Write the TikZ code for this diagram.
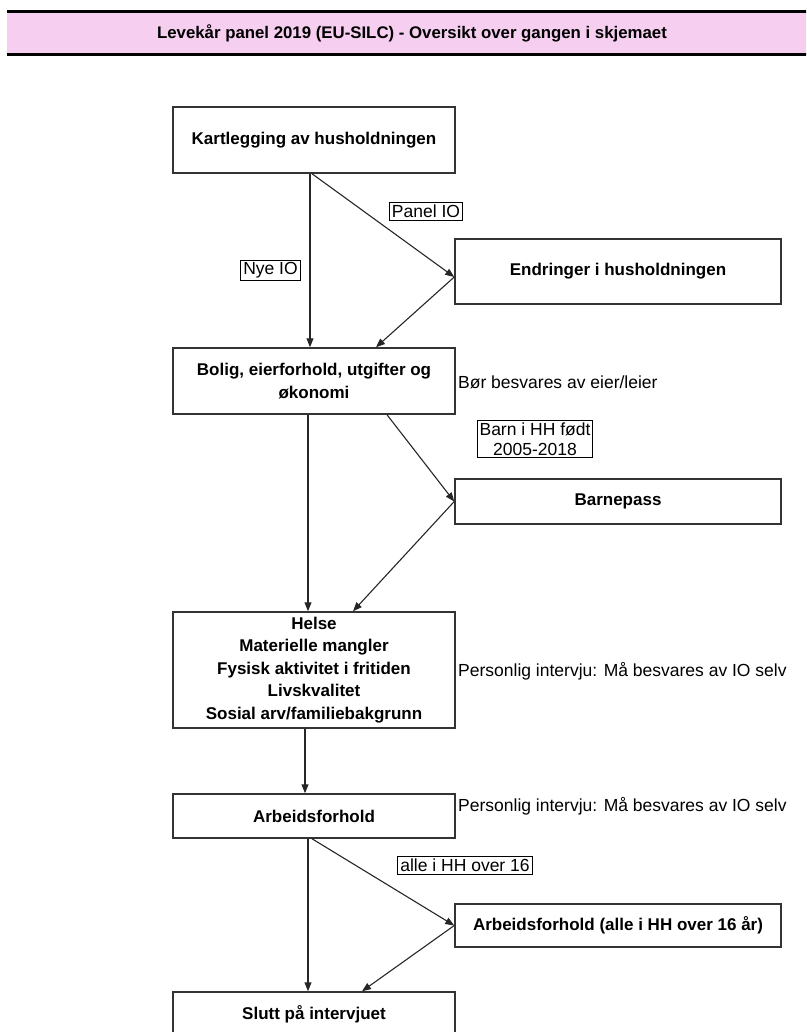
\documentclass[tikz,border=0pt]{standalone}
\usepackage{fontspec}
\setmainfont{Liberation Sans}
\usetikzlibrary{arrows.meta}
\definecolor{titlepink}{RGB}{245,206,240}
\tikzset{
	boks/.style={draw=black!80, line width=1.5pt, inner sep=0pt, align=center, minimum width=282pt, font=\bfseries\fontsize{17}{22.5}\selectfont},
	merk/.style={draw, line width=1pt, inner sep=2.5pt, align=center, font=\fontsize{17.5}{20}\selectfont},
	notat/.style={anchor=west, inner sep=0pt, font=\fontsize{17.5}{20}\selectfont},
	pil/.style={-{Triangle[length=9pt,width=7pt]}, line width=1.1pt, black!85}
}
\begin{document}
\begin{tikzpicture}[x=1pt, y=-1pt]
		\useasboundingbox (0,0) rectangle (806,1032);
		\clip (0,0) rectangle (806,1032);
		\fill[titlepink] (7,12) rectangle (812,55);
		\draw[line width=3pt] (7,12) -- (812,12);
		\draw[line width=3pt] (7,55) -- (812,55);
		\node[font=\bfseries\fontsize{16.8}{20}\selectfont] (tittel) at (412,33) {Levekår panel 2019 (EU-SILC) - Oversikt over gangen i skjemaet};
		\node[boks, minimum height=66pt] (kart) at (314,140) {Kartlegging av husholdningen};
		\node[boks, minimum height=65pt, minimum width=326pt] (endr) at (618,271.5) {Endringer i husholdningen};
		\node[boks, minimum height=66pt] (bolig) at (314,381) {Bolig, eierforhold, utgifter og\\økonomi};
		\node[boks, minimum height=45pt, minimum width=326pt] (barn) at (618,501.5) {Barnepass};
		\node[boks, minimum height=116pt] (helse) at (314,670) {Helse\\Materielle mangler\\Fysisk aktivitet i fritiden\\Livskvalitet\\Sosial arv/familiebakgrunn};
		\node[boks, minimum height=44pt] (arb) at (314,816) {Arbeidsforhold};
		\node[boks, minimum height=43pt, minimum width=326pt] (arballe) at (618,925.5) {Arbeidsforhold (alle i HH over 16 år)};
		\node[boks, minimum height=44pt] (slutt) at (314,1014) {Slutt på intervjuet};
		\node[merk] (panel) at (426,211.5) {Panel IO};
		\node[merk] (nye) at (270.5,270.5) {Nye IO};
		\node[merk] (barnhh) at (535,439) {Barn i HH født\\2005-2018};
		\node[merk] (over16) at (465,865.5) {alle i HH over 16};
		\node[notat] (eier) at (458,382) {Bør besvares av eier/leier};
		\node[notat] (pers1) at (458,671) {Personlig intervju: Må besvares av IO selv};
		\node[notat] (pers2) at (458,806) {Personlig intervju: Må besvares av IO selv};
		\draw[pil] ([xshift=-4pt]kart.south) -- ([xshift=-4pt]bolig.north);
		\draw[pil] ([xshift=-2pt]kart.south) -- ([yshift=-5.5pt]endr.west);
		\draw[pil] ([yshift=-5.5pt]endr.west) -- ([xshift=62pt]bolig.north);
		\draw[pil] ([xshift=-6pt]bolig.south) -- ([xshift=-6pt]helse.north);
		\draw[pil] ([xshift=73pt]bolig.south) -- (barn.west);
		\draw[pil] (barn.west) -- ([xshift=39pt]helse.north);
		\draw[pil] ([xshift=-9pt]helse.south) -- ([xshift=-9pt]arb.north);
		\draw[pil] ([xshift=-2pt]arb.south) -- (arballe.west);
		\draw[pil] ([xshift=-6pt]arb.south) -- ([xshift=-6pt]slutt.north);
		\draw[pil] (arballe.west) -- ([xshift=48pt]slutt.north);
	\end{tikzpicture}
\end{document}
